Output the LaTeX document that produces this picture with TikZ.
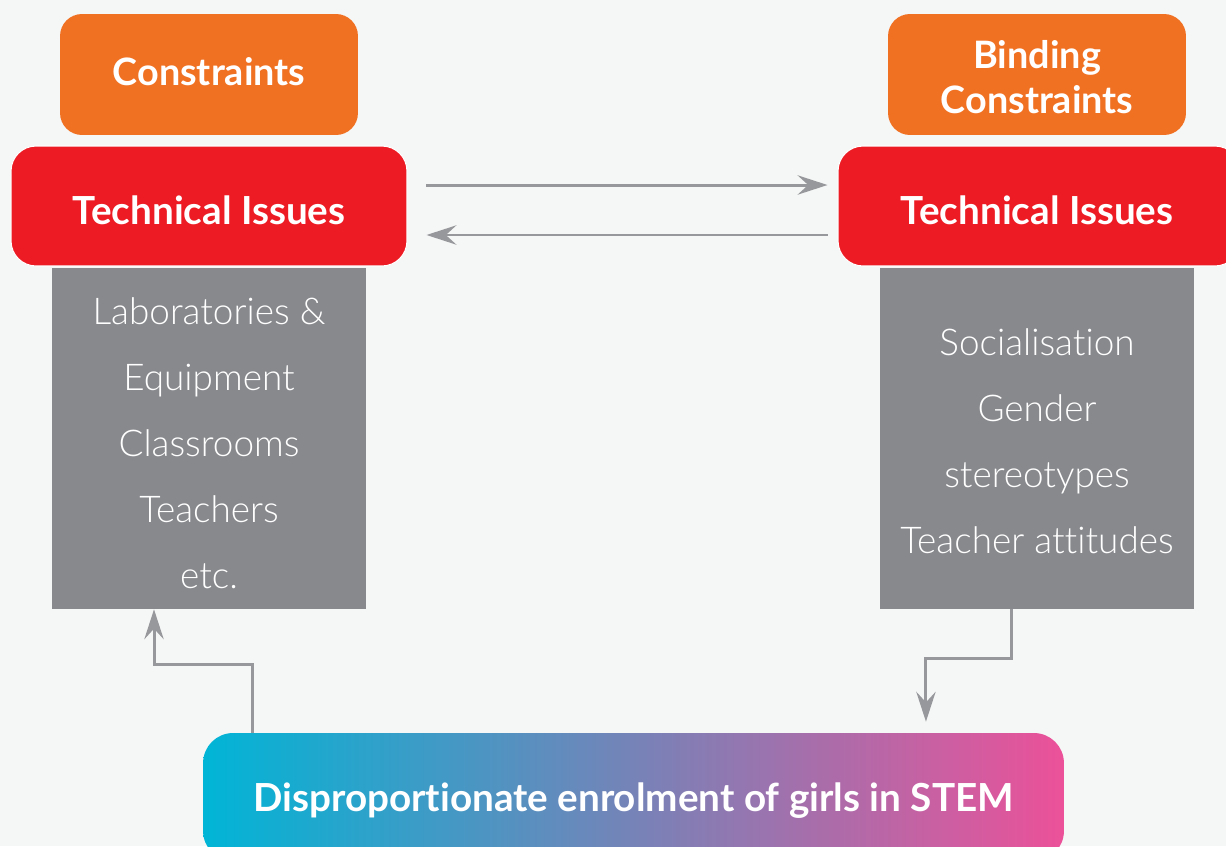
\documentclass[tikz,border=0pt]{standalone}
\usepackage{fontspec}
\setmainfont{Lato}[Ligatures=NoCommon]
\newfontfamily\lightfont{Lato Light}[Ligatures=NoCommon]
\usetikzlibrary{arrows.meta,positioning}
\definecolor{bgc}{HTML}{F5F6F6}
\definecolor{orangec}{HTML}{F17123}
\definecolor{redc}{HTML}{ED1C24}
\definecolor{grayc}{HTML}{88898D}
\definecolor{linec}{HTML}{97989B}
\definecolor{cyanc}{HTML}{00B5D6}
\definecolor{purplec}{HTML}{A393BF}
\definecolor{pinkc}{HTML}{EC5199}
\tikzset{
  head/.style={fill=orangec,rounded corners=0.44cm,text=white,align=center,
    minimum width=5.96cm,minimum height=2.42cm,font=\bfseries\fontsize{21.5}{25.5}\selectfont},
  tech/.style={fill=redc,draw=white,line width=0.6pt,rounded corners=0.5cm,text=white,
    minimum height=2.4cm,text height=0.75cm,text depth=0cm,font=\bfseries\fontsize{22}{26}\selectfont},
  itembox/.style={fill=grayc,minimum width=6.28cm,minimum height=6.82cm},
  itemtext/.style={text=white,align=center,font=\lightfont\fontsize{21}{37.6}\selectfont},
  conn/.style={draw=linec,line width=1.7pt,->}
}
\begin{document}
\begin{tikzpicture}[x=0.02cm,y=-0.02cm,>={Stealth[length=17pt,width=11pt,inset=6pt]}]
  \useasboundingbox (0,0) rectangle (1226,846);
  \fill[bgc] (0,0) rectangle (1226,846);
  % left column
  \node[head,text depth=0.14cm] (lcons) at (209,74.5) {Constraints};
  \node[tech,minimum width=7.92cm] (ltech) at (209,206) {Technical Issues};
  \node[itembox] (lgray) at (209,438.5) {};
  \node[itemtext,yshift=-0.1cm] (ltxt) at (lgray) {Laboratories \&\\Equipment\\Classrooms\\Teachers\\etc.};
  % right column
  \node[head] (rcons) at (1037,74.5)
    {\raisebox{-0.15cm}[\height][\depth]{\begin{tabular}{@{}c@{}}Binding\\Constraints\end{tabular}}};
  \node[tech,minimum width=8.04cm] (rtech) at (1039,206) {\hspace*{-0.08cm}Technical Issues};
  \node[itembox] (rgray) at (1037,438.5) {};
  \node[itemtext,yshift=-0.06cm] (rtxt) at (rgray) {Socialisation\\Gender\\stereotypes\\Teacher attitudes};
  % bottom
  \node[rounded corners=0.6cm,left color=cyanc,middle color=purplec,right color=pinkc,
    minimum width=17.22cm,minimum height=2.56cm,text=white,text height=0.56cm,text depth=0cm,
    font=\bfseries\fontsize{22}{26}\selectfont] (stem) at (633.5,797)
    {Disproportionate enrolment of girls in STEM};
  % connectors
  \draw[conn] ([shift={(0.38cm,0.42cm)}]ltech.east) -- ([shift={(-0.2cm,0.42cm)}]rtech.west);
  \draw[conn] ([shift={(-0.2cm,-0.58cm)}]rtech.west) -- ([shift={(0.38cm,-0.58cm)}]ltech.east);
  \draw[conn] ([xshift=-0.52cm]rgray.south) -- ++(0,49) -| ([xshift=5.85cm,yshift=0.22cm]stem.north);
  \draw[conn] ([xshift=-7.63cm]stem.north) -- ++(0,-68) -| ([xshift=-1.1cm]lgray.south);
\end{tikzpicture}
\end{document}
